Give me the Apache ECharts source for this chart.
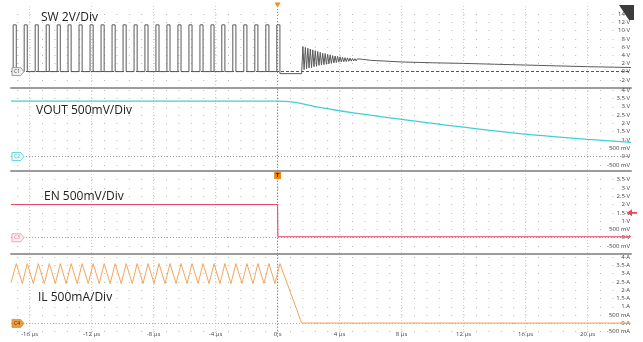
<!DOCTYPE html>
<html>
<head>
<meta charset="utf-8">
<script src="https://cdn.jsdelivr.net/npm/echarts@6/dist/echarts.min.js"></script>
<style>
  html, body { margin: 0; padding: 0; background: #fff; }
  #scope { width: 643px; height: 342px; }
</style>
</head>
<body>
<div id="scope"></div>
<script>
// ---- time base (µs) ----
const tMin = -17.2;
const tMax = 22.8;
const timeTicks = [-16, -12, -8, -4, 0, 4, 8, 12, 16, 20];

// ---- vertical windows and labelled divisions per channel ----
const swRange = [-4, 16];
const voutRange = [-0.87, 4.13];
const enRange = [-0.98, 4.02];
const ilRange = [-0.82, 4.18];
const swTicks = [-2, 0, 2, 4, 6, 8, 10, 12, 14];
const voutTicks = [-0.5, 0, 0.5, 1, 1.5, 2, 2.5, 3, 3.5, 4];
const enTicks = [-0.5, 0, 0.5, 1, 1.5, 2, 2.5, 3, 3.5];
const ilTicks = [-0.5, 0, 0.5, 1, 1.5, 2, 2.5, 3, 3.5, 4];

// ---- C1: switch node ----
const swRise = [-17.06, -16.35, -15.64, -14.93, -14.22, -13.52, -12.81, -12.10, -11.39,
  -10.68, -9.97, -9.26, -8.56, -7.85, -7.14, -6.43, -5.72, -5.01, -4.30, -3.60,
  -2.89, -2.18, -1.47, -0.76, -0.05];
const swFall = [-16.86, -16.15, -15.44, -14.73, -14.02, -13.32, -12.61, -11.90, -11.19,
  -10.48, -9.77, -9.06, -8.36, -7.65, -6.94, -6.23, -5.52, -4.81, -4.10, -3.40,
  -2.69, -1.98, -1.27, -0.56, 0.15];
const swHigh = 11.4;
const swLow = 0;
const swFreewheel = -0.5;          // level held after the last pulse
const swRingStart = 1.55;          // ringing sample grid (µs)
const swRingStep = 0.08;
const swRing = [6.1, 0.5, 5.9, 0.7, 5.7, 0.9, 5.5, 1.0, 5.3, 1.2, 5.1, 1.3, 4.9, 1.5,
  4.7, 1.6, 4.5, 1.7, 4.4, 1.8, 4.2, 1.9, 4.1, 2.0, 3.9, 2.1, 3.8, 2.2, 3.7, 2.3,
  3.6, 2.35, 3.5, 2.4, 3.4, 2.45, 3.35, 2.5, 3.3, 2.55, 3.2, 2.6, 3.15, 2.6, 3.1,
  2.65, 3.05, 2.65, 3.0, 2.7];
const swTail = [[6, 2.75], [8, 2.35], [10, 2.15], [12, 2.0], [14, 1.8], [16, 1.6],
  [18, 1.4], [20, 1.2], [22.8, 1.0]];

// ---- C2: output voltage ----
const voutSamples = [[-17.2, 3.34], [0, 3.34], [0.5, 3.33], [1.0, 3.28], [1.5, 3.2],
  [2.0, 3.1], [2.7, 2.96], [4, 2.76], [6, 2.49], [8, 2.24], [10, 2.0], [12, 1.77],
  [14, 1.55], [16, 1.35], [18, 1.19], [20, 1.04], [22.8, 0.86]];

// ---- C3: enable ----
const enSamples = [[-17.2, 2.0], [0, 2.0], [0.02, 0.06], [22.8, 0.06]];
const enTrigLevel = 1.5;

// ---- C4: inductor current ----
const ilValleyTimes = [-17.18, -16.47, -15.76, -15.05, -14.34, -13.64, -12.93, -12.22,
  -11.51, -10.80, -10.09, -9.38, -8.68, -7.97, -7.26, -6.55, -5.84, -5.13, -4.42,
  -3.72, -3.01, -2.30, -1.59, -0.88, -0.17];
const ilPeakTimes = swFall;
const ilStart = 2.45;
const ilValley = 2.4;
const ilPeak = 3.6;
const ilZeroTime = 1.55;
const ilOff = 0.02;

// ---- build traces ----
const swData = [[tMin, swLow]];
swRise.forEach((r, i) => {
  const last = i === swRise.length - 1;
  swData.push([r, swLow], [r, swHigh], [swFall[i], swHigh],
    [swFall[i], last ? swFreewheel : swLow]);
});
swData.push([swRingStart, swFreewheel]);
swRing.forEach((v, k) => swData.push([swRingStart + swRingStep * (k + 1), v]));
swTail.forEach(p => swData.push(p));

const ilData = [[tMin, ilStart]];
ilValleyTimes.forEach((t, i) => ilData.push([t, ilValley], [ilPeakTimes[i], ilPeak]));
ilData.push([ilZeroTime, ilOff], [tMax, ilOff]);

// ---- formatting ----
const fmtTime = v => (v === 0 ? '0 s' : v + ' µs');
const fmtUnit = u => v => (v !== 0 && Math.abs(v) < 1 ? Math.round(v * 1000) + ' m' + u : v + ' ' + u);

const GL = 11, GW = 620;
const grids = [
  { left: GL, width: GW, top: 6, height: 82 },
  { left: GL, width: GW, top: 88, height: 83 },
  { left: GL, width: GW, top: 171, height: 83 },
  { left: GL, width: GW, top: 254, height: 83 }
];

function xAxisFor(i) {
  const lastPanel = i === 3;
  return {
    type: 'value', gridIndex: i, min: tMin, max: tMax, position: 'bottom',
    axisLine: { show: !lastPanel, onZero: false, lineStyle: { color: '#9c9c9c', width: 2 } },
    axisTick: { show: false, customValues: timeTicks },
    axisLabel: lastPanel
      ? { show: true, inside: true, margin: 0, customValues: timeTicks, formatter: fmtTime,
          fontSize: 6, color: '#444', fontFamily: 'Open Sans' }
      : { show: false },
    splitLine: { show: true, lineStyle: { color: '#cfcfcf', type: [1, 2], width: 1 } }
  };
}

function yAxisFor(i, range, ticks, unit) {
  return {
    type: 'value', gridIndex: i, min: range[0], max: range[1], position: 'right',
    axisLine: { show: false },
    axisTick: { show: false, customValues: ticks },
    axisLabel: { show: true, inside: true, margin: 1, customValues: ticks,
      formatter: fmtUnit(unit), fontSize: 6, color: '#444', fontFamily: 'Open Sans' },
    splitLine: { show: true, lineStyle: { color: '#b8b8b8', type: [1, 11.4], dashOffset: 6.2, width: 1 } }
  };
}

const badgePath = 'path://M0,0L8,0L11,4L8,8L0,8Z';
function badge(name, fill, stroke, text) {
  return {
    coord: [tMin, 0], symbol: badgePath, symbolSize: [12, 8], symbolOffset: [7, 0],
    itemStyle: { color: fill, borderColor: stroke, borderWidth: 0.8 },
    label: { show: true, position: 'inside', formatter: name, fontSize: 5, color: text,
      fontFamily: 'Open Sans', offset: [-1, 0] }
  };
}

function zeroLines(color, type) {
  return {
    silent: true, symbol: 'none', animation: false, z: 3,
    label: { show: false },
    data: [
      { yAxis: 0, lineStyle: { color: color, type: type, width: 1 } },
      { xAxis: 0, lineStyle: { color: '#8a8a8a', type: [1, 2], width: 1 } }
    ]
  };
}

const titleStyle = { fontSize: 12, fontWeight: 'normal', color: '#222', fontFamily: 'Open Sans' };

const option = {
  animation: false,
  backgroundColor: '#ffffff',
  title: [
    { text: 'SW 2V/Div', left: 41, top: 12, padding: 0, textStyle: titleStyle },
    { text: 'VOUT 500mV/Div', left: 36, top: 105, padding: 0, textStyle: titleStyle },
    { text: 'EN 500mV/Div', left: 44, top: 191, padding: 0, textStyle: titleStyle },
    { text: 'IL 500mA/Div', left: 38, top: 292, padding: 0, textStyle: titleStyle }
  ],
  grid: grids.map(g => Object.assign({ containLabel: false, outerBoundsMode: 'none' }, g)),
  xAxis: [0, 1, 2, 3].map(xAxisFor),
  yAxis: [
    yAxisFor(0, swRange, swTicks, 'V'),
    yAxisFor(1, voutRange, voutTicks, 'V'),
    yAxisFor(2, enRange, enTicks, 'V'),
    yAxisFor(3, ilRange, ilTicks, 'A')
  ],
  series: [
    {
      name: 'SW', type: 'line', xAxisIndex: 0, yAxisIndex: 0, data: swData,
      symbol: 'none', z: 4, lineStyle: { color: '#5a5a5a', width: 1 },
      markLine: zeroLines('#555', [3, 2]),
      markPoint: {
        z: 6, animation: false,
        data: [
          badge('C1', '#efefef', '#8a8a8a', '#444'),
          { coord: [0, swRange[1]], symbol: 'triangle', symbolRotate: 180, symbolSize: [6, 5],
            symbolOffset: [0, -1], itemStyle: { color: '#f08a24' }, label: { show: false } }
        ]
      }
    },
    {
      name: 'VOUT', type: 'line', xAxisIndex: 1, yAxisIndex: 1, data: voutSamples,
      symbol: 'none', z: 4, smooth: 0.3, lineStyle: { color: '#40cfd8', width: 1.3 },
      markLine: zeroLines('#9a9a9a', [1, 2]),
      markPoint: { z: 6, animation: false, data: [badge('C2', '#f2fcfd', '#40cfd8', '#2fb8c2')] }
    },
    {
      name: 'EN', type: 'line', xAxisIndex: 2, yAxisIndex: 2, data: enSamples,
      symbol: 'none', z: 4, lineStyle: { color: '#e64664', width: 1 },
      markLine: zeroLines('#b0a0a4', [1, 2]),
      markPoint: {
        z: 6, animation: false,
        data: [
          badge('C3', '#fdf2f4', '#f08fa0', '#e8708a'),
          { coord: [0, enRange[1]], symbol: 'rect', symbolSize: [7, 8], symbolOffset: [0, 4],
            itemStyle: { color: '#e8891c' },
            label: { show: true, position: 'inside', formatter: 'T', fontSize: 6, fontWeight: 'bold', color: '#222' } },
          { coord: [tMax, enTrigLevel], symbol: 'path://M0,4L5,0L5,3L10,3L10,5L5,5L5,8Z',
            symbolSize: [10, 7], symbolOffset: [1, 0], itemStyle: { color: '#e64664' }, label: { show: false } }
        ]
      }
    },
    {
      name: 'IL', type: 'line', xAxisIndex: 3, yAxisIndex: 3, data: ilData,
      symbol: 'none', z: 4, lineStyle: { color: '#f6a55b', width: 1 },
      markLine: zeroLines('#e9a060', [1, 2]),
      markPoint: { z: 6, animation: false, data: [badge('C4', '#ef9a3c', '#e08a2c', '#333')] }
    }
  ],
  graphic: [
    { type: 'polygon', z: 100, shape: { points: [[619, 5], [634, 5], [634, 20], [629, 20]] },
      style: { fill: '#3c3c3c' } }
  ]
};

const chart = echarts.init(document.getElementById('scope'), null, { renderer: 'canvas' });
chart.setOption(option);
</script>
</body>
</html>
